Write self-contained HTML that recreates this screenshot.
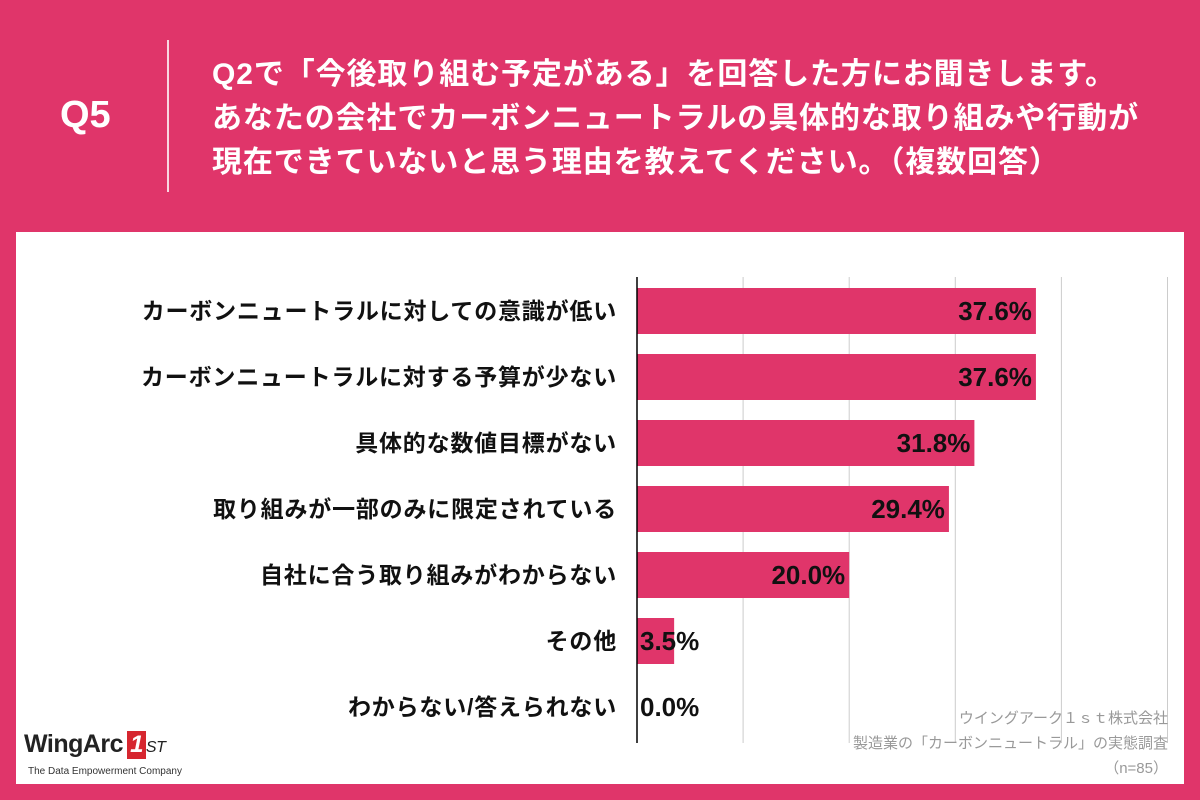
<!DOCTYPE html>
<html><head><meta charset="utf-8"><style>
body{margin:0;width:1200px;height:800px;background:#E0356A;font-family:"Liberation Sans","Noto Sans CJK JP",sans-serif;position:relative;overflow:hidden}
.q5{position:absolute;left:60px;top:94px;font-size:38px;font-weight:bold;color:#fff}
.vline{position:absolute;left:167px;top:40px;width:2px;height:152px;background:rgba(255,255,255,.8)}
.qt{position:absolute;left:212px;top:53px;font-size:30px;font-weight:bold;color:#fff;line-height:44px;white-space:nowrap;letter-spacing:0.9px}
.panel{position:absolute;left:16px;top:232px;width:1168px;height:552px;background:#fff}
</style></head><body>
<div class="q5">Q5</div>
<div class="vline"></div>
<div class="qt">Q2で「今後取り組む予定がある」を回答した方にお聞きします。<br>あなたの会社でカーボンニュートラルの具体的な取り組みや行動が<br>現在できていないと思う理由を教えてください。（複数回答）</div>
<div class="panel"></div>
<svg id="chart" width="1200" height="800" style="position:absolute;left:0;top:0"></svg>
<div style="position:absolute;left:24px;top:730px;font-size:25px;font-weight:bold;color:#222;letter-spacing:-0.5px">WingArc<span style="display:inline-block;background:#d6262f;color:#fff;font-style:italic;padding:0 3px;margin-left:4px;font-size:24px">1</span><span style="font-style:italic;font-size:16px;font-weight:normal">ST</span></div>
<div style="position:absolute;left:28px;top:766px;font-size:10px;color:#333">The Data Empowerment Company</div>
<div style="position:absolute;right:32px;top:706px;font-size:15px;color:#999;text-align:right;line-height:25px">ウイングアーク１ｓｔ株式会社<br>製造業の「カーボンニュートラル」の実態調査<br>（n=85）</div>
<script>
const categories=["カーボンニュートラルに対しての意識が低い","カーボンニュートラルに対する予算が少ない","具体的な数値目標がない","取り組みが一部のみに限定されている","自社に合う取り組みがわからない","その他","わからない/答えられない"];
const values=[37.6,37.6,31.8,29.4,20.0,3.5,0.0];
const gridTicks=[10,20,30,40,50];
const NS="http://www.w3.org/2000/svg";
const svg=document.getElementById('chart');
const x0=637,pxPer=10.61,yTop=277,yBot=743,rowStart=288,rowStep=66,barH=46;
const xs=v=>x0+v*pxPer;
const yr=i=>rowStart+i*rowStep;
function mk(t,a){const e=document.createElementNS(NS,t);for(const k in a)e.setAttribute(k,a[k]);svg.appendChild(e);return e;}
gridTicks.forEach(t=>{
const g=mk('line',{x1:xs(t),x2:xs(t),y1:yTop,y2:yBot,stroke:'#ccc','stroke-width':1});


});
categories.forEach((c,i)=>{
const y=yr(i);
const r=mk('rect',{x:x0,y:y,width:Math.max(0,xs(values[i])-x0),height:barH,fill:'#E0356A'});


const l=mk('text',{x:617,y:y+barH/2+8,'text-anchor':'end','font-size':23,'font-weight':'bold',fill:'#111','letter-spacing':0.8});
l.textContent=c;


const inside=values[i]>10;
const v=mk('text',{x:inside?xs(values[i])-4:x0+3,y:y+barH/2+9,'text-anchor':inside?'end':'start','font-size':26,'font-weight':'bold',fill:'#111'});
v.textContent=values[i].toFixed(1)+'%';


});
const ax=mk('line',{x1:x0,x2:x0,y1:yTop,y2:yBot,stroke:'#000','stroke-width':1.5});


</script>
</body></html>
